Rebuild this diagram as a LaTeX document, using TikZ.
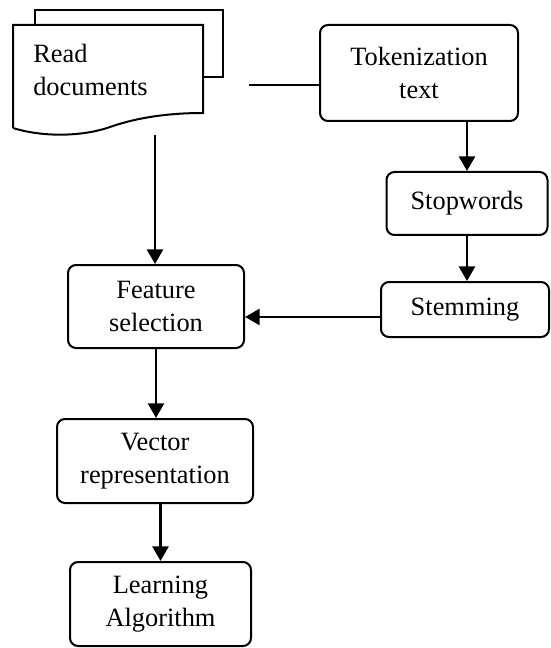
\documentclass[tikz,border=0pt]{standalone}
\usepackage{fontspec}
\setmainfont{Liberation Serif}
\usetikzlibrary{arrows.meta}

\begin{document}
\begin{tikzpicture}[x=0.75pt,y=-0.75pt,
  box/.style={draw,rounded corners=6pt,line width=1.5pt,align=center,inner sep=0pt,
    font=\fontsize{19.8}{24.5}\selectfont},
  arr/.style={line width=2pt,-{Triangle[length=11pt,width=12pt]}}]

\useasboundingbox (0,0) rectangle (550,648);

% stacked document
\draw[line width=1.5pt] (35,25) -- (35,10) -- (223,10) -- (223,77) -- (203,77);
\draw[line width=1.5pt] (13,128) -- (13,25) -- (203,25) -- (203,113)
   .. controls (160,113) and (130,120) .. (110,127)
   .. controls (85,136) and (45,138) .. (13,128);
\node[anchor=west,align=left,inner sep=0pt,font=\fontsize{19.8}{24.5}\selectfont] (doc) at (33,70) {Read\\documents};
\coordinate (docright) at (249,85);
\coordinate (docout) at (155,135);

\node[box,minimum width=198*0.75pt,minimum height=96*0.75pt] (tok) at (419,73) {Tokenization\\text};
\node[box,minimum width=161*0.75pt,minimum height=63*0.75pt] (stop) at (467,203.5) {Stopwords};
\node[box,minimum width=168*0.75pt,minimum height=55*0.75pt] (stem) at (465,309.5) {Stemming};
\node[box,minimum width=176*0.75pt,minimum height=83*0.75pt] (feat) at (156,306.5) {Feature\\selection};
\node[box,minimum width=196*0.75pt,minimum height=84*0.75pt] (vec) at (155,461) {Vector\\representation};
\node[box,minimum width=181*0.75pt,minimum height=84*0.75pt] (learn) at (160.5,604) {Learning\\Algorithm};

\draw[line width=2pt] (docright) -- (tok.west |- docright);
\draw[arr] (docout) -- (docout |- feat.north);
\draw[arr] (tok.south -| stop.north) -- (stop.north);
\draw[arr] (stop.south) -- (stop.south |- stem.north);
\draw[arr] ([yshift=-5.6pt]stem.west) -- ([yshift=-5.6pt]stem.west -| feat.east);
\draw[arr] (feat.south) -- (feat.south |- vec.north);
\draw[arr] (vec.south -| learn.north) -- (learn.north);
\end{tikzpicture}
\end{document}
